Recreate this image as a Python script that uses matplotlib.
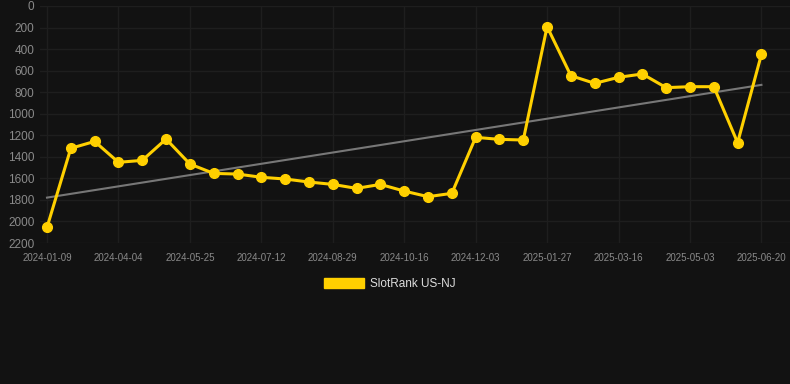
import matplotlib
matplotlib.use("Agg")
import matplotlib.pyplot as plt
from matplotlib.patches import Patch
import numpy as np

dates = [
    "2024-01-09", "2024-02-06", "2024-03-07", "2024-04-04", "2024-04-21", "2024-05-08",
    "2024-05-25", "2024-06-10", "2024-06-26", "2024-07-12", "2024-07-28", "2024-08-13",
    "2024-08-29", "2024-09-14", "2024-09-30", "2024-10-16", "2024-11-01", "2024-11-17",
    "2024-12-03", "2024-12-21", "2025-01-08", "2025-01-27", "2025-02-12", "2025-02-28",
    "2025-03-16", "2025-04-01", "2025-04-17", "2025-05-03", "2025-05-19", "2025-06-04",
    "2025-06-20",
]
ranks = [
    2055, 1321, 1257, 1451, 1433, 1235, 1467, 1554, 1560, 1590, 1606, 1634,
    1656, 1693, 1656, 1718, 1770, 1739, 1219, 1238, 1244, 192, 647, 718,
    662, 631, 758, 749, 749, 1269, 449,
]
series_name = "SlotRank US-NJ"
ytick_values = [0, 200, 400, 600, 800, 1000, 1200, 1400, 1600, 1800, 2000, 2200]

BG = "#121212"
GOLD = "#FFD000"
GRID = "#1e1e1e"
TICK = "#8a8a8a"

plt.rcParams["font.family"] = ["Liberation Sans", "DejaVu Sans"]

fig = plt.figure(figsize=(7.9, 3.84), dpi=100, facecolor=BG)
ax = fig.add_axes([40 / 790, 141 / 384, 750 / 790, 237 / 384], facecolor=BG)

x = np.arange(len(ranks))
y = np.array(ranks, dtype=float)

# trend line (linear regression)
coef = np.polyfit(x, y, 1)
ax.plot(x, np.polyval(coef, x), color="#777777", linewidth=1.5, zorder=2)

ax.plot(x, y, color=GOLD, linewidth=2.2, marker="o", markersize=7,
        markerfacecolor=GOLD, markeredgecolor=GOLD, zorder=3)

ax.set_ylim(2200, 0)
ax.set_xlim(-0.294, 31.2)
ax.set_yticks(ytick_values)
ax.set_yticklabels([str(v) for v in ytick_values])
tick_idx = list(range(0, len(dates), 3))
ax.set_xticks(tick_idx)
ax.set_xticklabels([dates[i] for i in tick_idx])

ax.grid(True, color=GRID, linewidth=1.0)
ax.set_axisbelow(True)
for s in ax.spines.values():
    s.set_visible(False)
ax.tick_params(axis="y", length=0, pad=4, labelsize=8.5, labelcolor=TICK)
ax.tick_params(axis="x", length=0, pad=7, labelsize=7, labelcolor=TICK)

handle = Patch(facecolor=GOLD, edgecolor=GOLD)
leg = fig.legend([handle], [series_name], loc="center",
                 bbox_to_anchor=(390 / 790, 1 - 284 / 384),
                 frameon=False, fontsize=8.5, handlelength=3.4, handleheight=0.95,
                 handletextpad=0.5, labelcolor="#dddddd")

fig.savefig("out.png", dpi=100, facecolor=BG)
